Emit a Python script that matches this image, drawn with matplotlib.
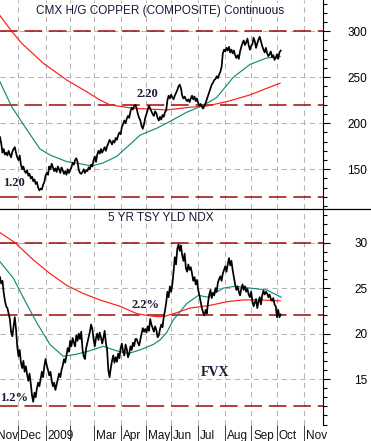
import numpy as np
import matplotlib
matplotlib.use("Agg")
import matplotlib.pyplot as plt
import matplotlib.transforms as mtransforms
from matplotlib.lines import Line2D
from matplotlib.ticker import MultipleLocator, FixedLocator

plt.rcParams['font.family'] = ['Liberation Sans', 'DejaVu Sans']

# ---------------- data (trading-day index, day 0 ~ 10 Nov 2008) ----------------
month_starts = [-4, 15, 37, 57, 76, 98, 119, 139, 161, 183, 204, 225, 247]
month_labels = ["Nov", "Dec", "2009", "", "Mar", "Apr", "May", "Jun", "Jul", "Aug", "Sep", "Oct", "Nov"]

copper_close = [
    185, 178, 168, 172, 166, 168, 165, 170, 166, 163, 169, 172, 174, 168, 163, 160, 165,
    155, 150, 153, 148, 146, 149, 143, 145, 140, 142, 137, 139, 134, 136,
    130, 127, 129, 128, 133, 136, 143, 146, 144, 153, 150, 156, 152,
    148, 151, 147, 153, 150, 146, 152, 149, 145, 148, 144, 150, 146, 149, 152,
    157, 155, 160, 162, 158, 149, 146, 145, 147, 150, 146, 149, 148,
    152, 150, 155, 153, 160, 164, 158, 166, 170, 167, 172, 168,
    171, 174, 170, 175, 178, 182, 180, 177, 181, 179, 184, 182, 187, 190, 188,
    196, 199, 203, 200, 205, 208, 206, 213, 217, 215, 219, 220, 216,
    210, 206, 203, 197, 194, 199, 206, 210, 215, 219, 216, 213,
    210, 208, 213, 211, 206, 203, 207, 204, 209, 207, 212, 214,
    225, 230, 227, 231, 228, 226, 230, 233, 236, 240, 242, 238,
    230, 227, 229, 226, 224, 226, 223, 227, 230, 226, 229, 224, 227,
    222, 219, 221, 218, 216, 219, 222, 226, 230, 234, 238, 242, 244, 247,
    248, 251, 249, 253, 256, 261, 276, 280, 278, 282, 279, 283, 277,
    280, 276, 279, 274, 271, 274, 270, 278, 283, 287, 290, 285, 288,
    292, 285, 280, 284, 286, 293, 289, 282, 287, 291, 294, 289,
    284, 280, 277, 282, 276, 273, 275, 278, 272, 274, 269, 271, 275, 270, 277, 279,
]
copper_ma50_days = [0, 9.5, 20.3, 32.5, 40.6, 54.2, 65, 74.5, 83.9, 94.8, 105.6, 113.7,
                    127.3, 138.1, 151.7, 165.2, 176, 189.5, 203.1, 216.7, 227.5]
copper_ma50_vals = [245, 218, 196, 172, 165.5, 158.3, 156, 153.5, 157, 164, 177, 187,
                    194.6, 202, 212, 219.5, 228, 250, 264, 271, 272.5]
copper_ma200_days = [0, 9.5, 17.6, 35.2, 54.2, 70.4, 81.2, 89.4, 108, 135.4, 154.3,
                     167.9, 184.2, 203, 216.7, 227.5]
copper_ma200_vals = [317, 300, 287, 265.2, 247, 234.3, 225.3, 220, 216.3, 214.5, 217.4,
                     218.8, 223.5, 230.8, 238, 243.5]
copper_levels = [300, 220, 120]
copper_ticks = [150, 200, 250, 300]

fvx_close = [
    26.2, 25.5, 25.8, 24.5, 23.6, 23.0, 22.8, 22.2, 21.6, 20.2, 19.7,
    20.8, 21.8, 20.5, 18.6, 17.5, 18.2, 16.8, 16.2, 17.0, 15.8, 16.4,
    15.5, 14.8, 15.6, 14.5, 13.2, 12.5, 13.5, 13.0, 14.0,
    14.6, 14.2, 15.0, 15.8, 15.2, 16.4, 17.2, 16.5, 16.0, 15.4, 15.8,
    14.8, 14.2, 14.6, 13.8, 14.4, 15.0, 15.6, 15.2, 16.0, 16.5, 17.2, 16.8,
    17.6, 18.4, 18.0, 19.2, 18.6, 19.5, 19.0,
    18.6, 19.8, 19.2, 20.0, 19.4, 20.2, 18.3, 17.5, 17.2, 18.4, 19.0,
    19.6, 20.2, 21.0, 20.5, 19.4, 18.6, 19.5, 20.0, 19.3, 20.1, 19.6, 18.9,
    19.5, 20.3, 19.0, 18.2, 16.0, 15.2, 16.2, 17.0, 17.6, 16.8, 17.4,
    16.9, 17.8, 17.3, 18.4, 18.9, 18.0, 17.6, 18.8, 18.3, 17.4, 17.8, 18.6,
    18.2, 19.0, 18.6, 19.4, 19.4, 19.0, 18.7, 19.3, 20.0, 20.6, 20.2,
    20.5, 20.1, 20.8, 20.3, 21.6, 21.0, 20.6, 20.2, 20.8, 20.4, 19.6, 19.8,
    20.5, 21.0, 20.7, 21.8, 22.5, 23.4, 24.6, 24.0, 25.2, 24.6, 25.4,
    26.8, 28.4, 27.6, 29.3, 29.8, 29.1, 29.7, 28.6, 28.0, 28.8,
    27.2, 26.8, 27.6, 27.0, 27.3, 26.6, 25.8, 26.2, 25.4, 25.9, 24.8, 24.2,
    23.5, 22.8, 22.3, 22.0, 22.6, 22.2, 23.4, 24.3, 24.8, 23.9, 24.5, 24.2,
    25.0, 24.6, 25.6, 26.0, 26.3, 25.8, 26.6, 27.0, 27.4, 26.8,
    27.6, 28.3, 27.5, 28.0, 27.0, 26.2, 25.4, 24.8, 25.2, 24.6, 24.2, 24.9,
    25.4, 24.8, 25.2, 24.6, 24.9, 24.3, 24.0, 24.6, 23.6, 23.0, 23.4, 23.8,
    22.8, 23.5, 24.0, 23.2, 24.2, 24.7, 24.3, 24.6, 24.4, 24.0, 24.3, 23.8,
    23.6, 23.9, 23.2, 23.0, 21.8, 22.6, 21.8, 22.1,
]
fvx_ma50_days = [0, 10.8, 20.3, 29.8, 40.6, 51.4, 60.9, 70.4, 83.9, 94.8, 104.2, 113.7,
                 124.5, 130, 135.4, 140.8, 151.7, 161.1, 169.2, 181.4, 190.9, 203.1,
                 216.7, 228.3]
fvx_ma50_vals = [27.9, 26.1, 23.6, 21.2, 18.8, 17.5, 17.7, 18.0, 18.6, 18.1, 17.8, 18.2,
                 18.8, 19.3, 20.1, 21.5, 23.3, 24.2, 24.0, 25.0, 25.2, 25.0, 24.8, 24.0]
fvx_ma200_days = [0, 12.2, 27.1, 40.6, 54.2, 67.7, 81.2, 97.5, 111, 119.2, 128.3, 134,
                  143.5, 154.3, 170.6, 184.2, 197.6, 211.2, 227.5]
fvx_ma200_vals = [31.1, 30.0, 28.1, 26.6, 25.3, 24.4, 23.7, 23.0, 22.2, 22.0, 21.85, 21.9,
                  22.3, 22.8, 23.1, 23.5, 23.7, 23.7, 23.6]
fvx_levels = [30, 22, 12]
fvx_ticks = [15, 20, 25, 30]

# ---------------- figure ----------------
W, H = 371, 441
fig = plt.figure(figsize=(W / 100, H / 100), dpi=100)


def rect(x0, y0, x1, y1):
    return [x0 / W, 1 - y1 / H, (x1 - x0) / W, (y1 - y0) / H]


ax1 = fig.add_axes(rect(0, 0, 323, 209))
ax2 = fig.add_axes(rect(0, 209, 323, 424.5))

XMAX = 323 / 1.231
GRID = '#b4b4b4'
LEVEL = '#9a0a0a'
RED = '#ff1a1a'
TEAL = '#16897a'
TXT = '#1a1a38'

panels = [
    (ax1, copper_close, copper_ma50_days, copper_ma50_vals, copper_ma200_days,
     copper_ma200_vals, copper_levels, (106.8, 334.0), copper_ticks, 10),
    (ax2, fvx_close, fvx_ma50_days, fvx_ma50_vals, fvx_ma200_days,
     fvx_ma200_vals, fvx_levels, (10.0, 33.7), fvx_ticks, 1),
]

for ax, close, m50d, m50v, m200d, m200v, levels, ylim, ticks, minor in panels:
    ax.set_xlim(0, XMAX)
    ax.set_ylim(*ylim)
    for m in month_starts:
        if 0 < m < XMAX:
            ax.axvline(m, color=GRID, lw=0.75, dashes=(5, 4), zorder=1)
    for v in ticks:
        ax.axhline(v, color=GRID, lw=0.75, dashes=(5, 4), zorder=1)
    for lv in levels:
        ax.axhline(lv, color=LEVEL, lw=1.1, dashes=(11.5, 4.5), zorder=2)
    ax.plot(m200d, m200v, color=RED, lw=0.85, zorder=3)
    ax.plot(m50d, m50v, color=TEAL, lw=0.85, zorder=3)
    ax.plot(np.arange(len(close)), close, color='black', lw=1.25, zorder=4)

    for s in ('left', 'top', 'bottom'):
        ax.spines[s].set_visible(False)
    ax.spines['right'].set_linewidth(0.8)
    ax.yaxis.tick_right()
    ax.yaxis.set_major_locator(FixedLocator(ticks))
    ax.yaxis.set_minor_locator(MultipleLocator(minor))
    ax.tick_params(axis='y', which='major', length=4.8, width=0.8, pad=27,
                   labelsize=8.5, colors='black')
    ax.tick_params(axis='y', which='minor', length=2.9, width=0.8)
    for lab in ax.get_yticklabels():
        lab.set_horizontalalignment('right')
    ax.set_facecolor('white')

ax1.set_xticks([])
ax2.set_xticks([m for m in month_starts if 0 < m < XMAX])
ax2.tick_params(axis='x', which='major', length=12, width=0.7, color='#404040',
                labelbottom=False, direction='out')

# month labels
trans = mtransforms.blended_transform_factory(ax2.transData, fig.transFigure) + \
    mtransforms.ScaledTranslation(2 / 100, 0, fig.dpi_scale_trans)
for m, lab in zip(month_starts, month_labels):
    ax2.text(m, 1 - 439 / H, lab, transform=trans, ha='left', va='baseline',
             fontsize=8.5, color='#111111', clip_on=False)

# separator between panels
fig.add_artist(Line2D([0, 1], [1 - 209 / H] * 2, color='black', lw=0.9))

# titles and annotations
ax1.text(130, 322.4, "CMX H/G COPPER (COMPOSITE) Continuous", ha='center', va='center',
         fontsize=8.5, color=TXT, zorder=6)
ax2.text(130.5, 32.7, "5 YR TSY YLD NDX", ha='center', va='center',
         fontsize=8.5, color=TXT, zorder=6)
serif = ['Liberation Serif', 'DejaVu Serif']
ax1.text(119.8, 231.5, "2.20", ha='center', va='center', fontsize=9, fontweight='bold',
         family=serif, color=TXT, zorder=6)
ax1.text(11, 134.8, "1.20", ha='center', va='center', fontsize=9, fontweight='bold',
         family=serif, color=TXT, zorder=6)
ax2.text(118.6, 23.15, "2.2%", ha='center', va='center', fontsize=9, fontweight='bold',
         family=serif, color=TXT, zorder=6)
ax2.text(11.8, 12.9, "1.2%", ha='center', va='center', fontsize=9, fontweight='bold',
         family=serif, color=TXT, zorder=6)
ax2.text(174.7, 15.7, "FVX", ha='center', va='center', fontsize=10, fontweight='bold',
         family=serif, color=TXT, zorder=6)

fig.savefig("out.png", dpi=100, facecolor='white')
